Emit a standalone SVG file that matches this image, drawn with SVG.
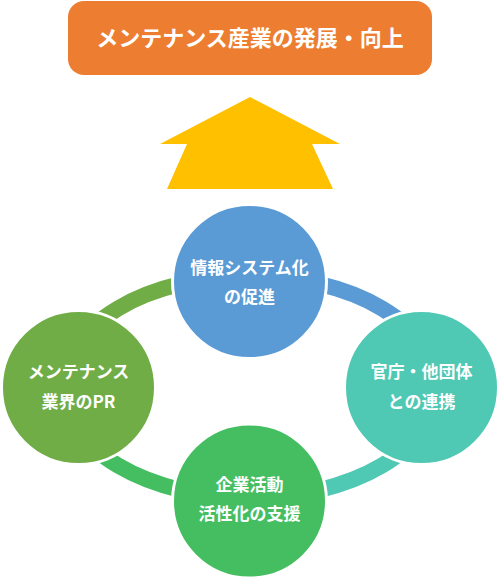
<svg xmlns="http://www.w3.org/2000/svg" width="500" height="579" viewBox="0 0 500 579">
<style>
.t{font-family:"Noto Sans CJK JP","Noto Sans",sans-serif;font-weight:700;fill:#fff;text-anchor:middle}
.ct{font-size:17px}
.ring{fill:none;stroke-width:16}
.node{stroke:#fff;stroke-width:3}
</style>
<rect width="500" height="579" fill="#fff"/>
<g id="goal">
<rect x="68" y="1" width="364" height="74" rx="16" fill="#ED7D31"/>
<text class="t" x="250" y="46" font-size="22">メンテナンス産業の発展・向上</text>
</g>
<g id="arrow">
<polygon points="250,97 340,144 312,144 333,189 167,189 187,144 160,144" fill="#FFC000"/>
</g>
<g id="connectors">
<path class="ring" stroke="#70AD47" d="M63,387 A187,111 0 0 1 250,276"/>
<path class="ring" stroke="#5B9BD5" d="M250,276 A187,111 0 0 1 437,387"/>
<path class="ring" stroke="#4FC8B4" d="M437,387 A187,111 0 0 1 250,498"/>
<path class="ring" stroke="#45BE61" d="M250,498 A187,111 0 0 1 63,387"/>
</g>
<g id="node-it">
<circle class="node" cx="249.5" cy="281.5" r="77" fill="#5B9BD5"/>
<text class="t ct" x="249.5" y="274">情報システム化</text>
<text class="t ct" x="249.5" y="303">の促進</text>
</g>
<g id="node-pr">
<circle class="node" cx="78.5" cy="387.5" r="77" fill="#70AD47"/>
<text class="t ct" x="78.5" y="378">メンテナンス</text>
<text class="t ct" x="78.5" y="408">業界のPR</text>
</g>
<g id="node-gov">
<circle class="node" cx="421.5" cy="387.5" r="77" fill="#4FC8B4"/>
<text class="t ct" x="421.5" y="378">官庁・他団体</text>
<text class="t ct" x="421.5" y="408">との連携</text>
</g>
<g id="node-biz">
<circle class="node" cx="249.5" cy="501" r="77" fill="#45BE61"/>
<text class="t ct" x="249.5" y="491">企業活動</text>
<text class="t ct" x="249.5" y="520">活性化の支援</text>
</g>
</svg>
